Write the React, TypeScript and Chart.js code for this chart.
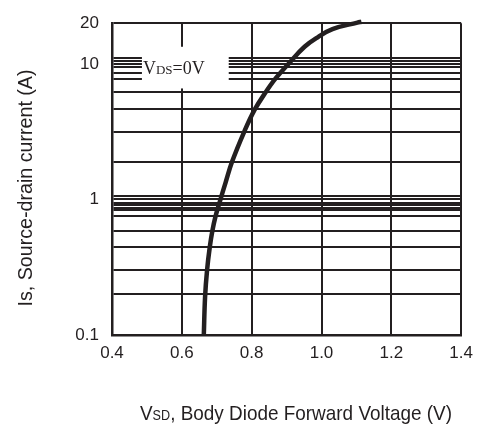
import { useEffect, useRef } from "react";
import { Chart, registerables } from "chart.js";

Chart.register(...registerables);

// Curve: body diode forward voltage (V) vs source-drain current (A)
const vsdValues = [0.6629, 0.6666, 0.6723, 0.68, 0.6877, 0.6963, 0.7086, 0.7257, 0.7443, 0.7786, 0.8086, 0.84, 0.8686, 0.9057, 0.9514, 0.99, 1.0314, 1.1029, 1.1143];
const isValues = [0.1, 0.192, 0.302, 0.445, 0.591, 0.748, 0.962, 1.345, 1.913, 3.16, 4.6, 6.18, 7.82, 10.05, 13.4, 15.8, 18.1, 20.2, 20.5];

// Axes
const xTickValues = [0.4, 0.6, 0.8, 1.0, 1.2, 1.4];
const yMin = 0.1;
const yMax = 20;
const yLabelValues = [0.1, 1, 10, 20];
const yGridValues = [0.2, 0.3, 0.445, 0.59, 0.76, 0.83, 0.87, 0.915, 0.945, 1, 1.055, 1.9, 3.15, 4.65, 6.2, 7.7, 8.65, 9.55, 10, 10.55, 11.1];

// Annotation box (data units)
const boxXRange = [0.4857, 0.7343];
const boxYRange = [6.6, 13.4];

const INK = "#231f20";
const SANS = "'Liberation Sans', Arial, sans-serif";
const SERIF = "'Liberation Serif', 'Times New Roman', serif";

type Seg = { t: string; size: number };

function segWidth(ctx: CanvasRenderingContext2D, segs: Seg[], family: string) {
  let w = 0;
  for (const s of segs) {
    ctx.font = `${s.size}px ${family}`;
    w += ctx.measureText(s.t).width;
  }
  return w;
}

function drawSegs(ctx: CanvasRenderingContext2D, segs: Seg[], family: string, x: number, baseline: number) {
  let cx = x;
  ctx.textAlign = "left";
  ctx.textBaseline = "alphabetic";
  for (const s of segs) {
    ctx.font = `${s.size}px ${family}`;
    ctx.fillText(s.t, cx, baseline);
    cx += ctx.measureText(s.t).width;
  }
}

const annotPlugin = {
  id: "annot",
  beforeDatasetsDraw(chart: any) {
    const { ctx, scales } = chart;
    const x = scales.x;
    const y = scales.y;
    const x0 = x.getPixelForValue(boxXRange[0]);
    const x1 = x.getPixelForValue(boxXRange[1]);
    const y0 = y.getPixelForValue(boxYRange[1]);
    const y1 = y.getPixelForValue(boxYRange[0]);
    ctx.save();
    ctx.fillStyle = "#ffffff";
    ctx.fillRect(x0, y0, x1 - x0, y1 - y0);
    ctx.fillStyle = INK;
    const segs: Seg[] = [
      { t: "V", size: 18 },
      { t: "DS", size: 13 },
      { t: "=0V", size: 18 },
    ];
    drawSegs(ctx, segs, SERIF, x0 + 1, (y0 + y1) / 2 + 6);
    ctx.restore();
  },
  afterDraw(chart: any) {
    const { ctx } = chart;
    ctx.save();
    ctx.fillStyle = INK;
    // X title
    const xs: Seg[] = [
      { t: "V", size: 21 },
      { t: "SD", size: 14 },
      { t: ", Body Diode Forward Voltage (V)", size: 21 },
    ];
    const xw = segWidth(ctx, xs, SANS);
    const xTarget = 312;
    ctx.save();
    ctx.translate(296 - xTarget / 2, 420);
    ctx.scale(xTarget / xw, 1);
    drawSegs(ctx, xs, SANS, 0, 0);
    ctx.restore();
    // Y title
    const ys: Seg[] = [{ t: "Is, Source-drain current (A)", size: 21 }];
    const yw = segWidth(ctx, ys, SANS);
    const yTarget = 237;
    ctx.save();
    ctx.translate(32, 188 + yTarget / 2);
    ctx.rotate(-Math.PI / 2);
    ctx.scale(yTarget / yw, 1);
    drawSegs(ctx, ys, SANS, 0, 0);
    ctx.restore();
    ctx.restore();
  },
};

export default function App() {
  const ref = useRef<HTMLCanvasElement | null>(null);

  useEffect(() => {
    if (!ref.current) return;
    const points = vsdValues.map((v, i) => ({ x: v, y: isValues[i] }));
    const chart = new Chart(ref.current, {
      type: "scatter",
      data: {
        datasets: [
          {
            data: points,
            showLine: true,
            borderColor: INK,
            borderWidth: 4.5,
            pointRadius: 0,
            tension: 0.4,
            clip: false as any,
          } as any,
        ],
      },
      options: {
        responsive: true,
        maintainAspectRatio: false,
        animation: false,
        layout: { padding: { top: 19, right: 19, left: 0, bottom: 0 } },
        plugins: {
          legend: { display: false },
          tooltip: { enabled: false },
        },
        scales: {
          x: {
            type: "linear",
            min: 0.4,
            max: 1.4,
            afterBuildTicks: (scale: any) => {
              scale.ticks = xTickValues.map((v) => ({ value: v }));
            },
            afterFit: (scale: any) => {
              scale.height = 95;
            },
            ticks: {
              color: INK,
              padding: 8,
              font: { family: SANS, size: 17 },
              callback: (v: any) => Number(v).toFixed(1),
            },
            grid: { color: INK, lineWidth: 2, drawTicks: false },
            border: { color: INK, width: 2.5 },
          },
          y: {
            type: "logarithmic",
            min: yMin,
            max: yMax,
            afterBuildTicks: (scale: any) => {
              scale.ticks = [yMin, ...yGridValues, yMax].map((v) => ({ value: v }));
            },
            afterFit: (scale: any) => {
              scale.width = 112;
            },
            ticks: {
              color: INK,
              padding: 13,
              autoSkip: false,
              font: { family: SANS, size: 17 },
              callback: (v: any) => (yLabelValues.includes(Number(v)) ? String(v) : ""),
            },
            grid: { color: INK, lineWidth: 2, drawTicks: false },
            border: { color: INK, width: 2.5 },
          },
        },
      },
      plugins: [annotPlugin],
    });
    return () => chart.destroy();
  }, []);

  return (
    <div style={{ position: "absolute", left: 0, top: 0, width: 481, height: 430, background: "#fff" }}>
      <canvas ref={ref} />
    </div>
  );
}
